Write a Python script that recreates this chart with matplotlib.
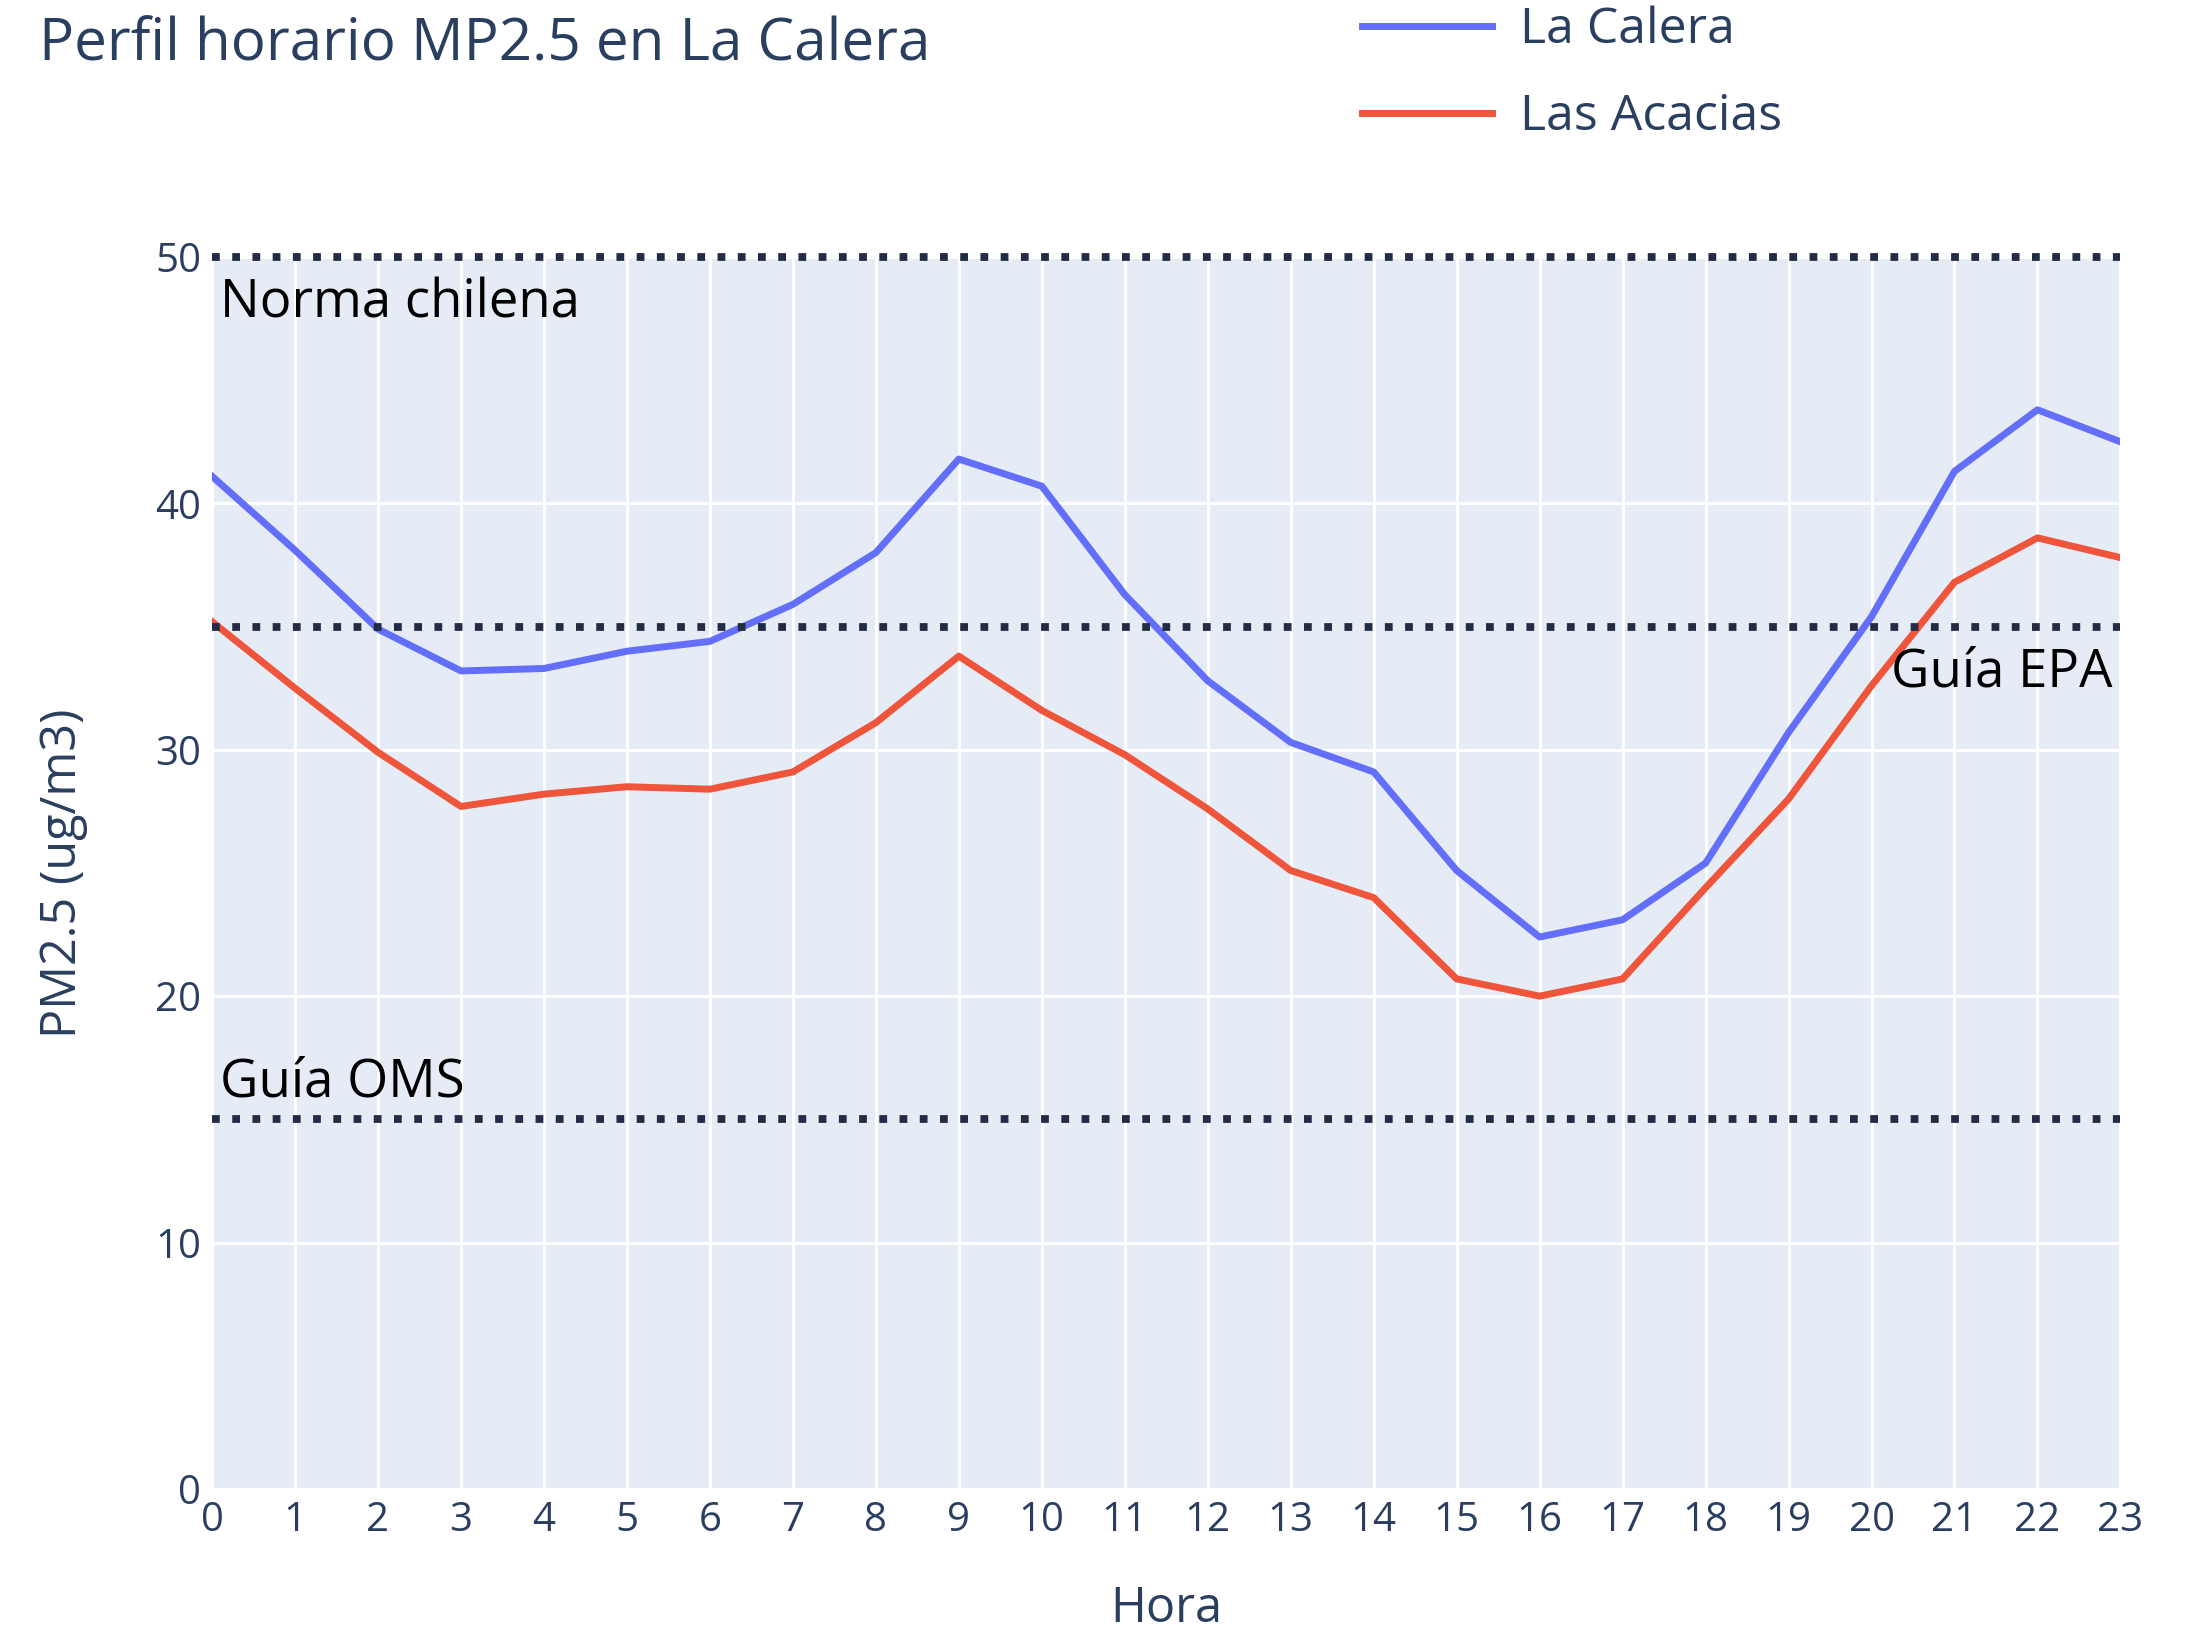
import matplotlib.pyplot as plt
import numpy as np

plt.rcParams['font.family'] = ['Open Sans', 'DejaVu Sans']

horas = list(range(24))
la_calera = [41.1, 38.1, 34.9, 33.2, 33.3, 34.0, 34.4, 35.9, 38.0, 41.8, 40.7, 36.3,
             32.8, 30.3, 29.1, 25.1, 22.4, 23.1, 25.4, 30.7, 35.4, 41.3, 43.8, 42.5]
las_acacias = [35.2, 32.5, 29.9, 27.7, 28.2, 28.5, 28.4, 29.1, 31.1, 33.8, 31.6, 29.8,
               27.6, 25.1, 24.0, 20.7, 20.0, 20.7, 24.4, 28.0, 32.6, 36.8, 38.6, 37.8]
limites = [50, 35, 15]   # Norma chilena, Guía EPA, Guía OMS

texto = '#2a3f5f'

fig = plt.figure(figsize=(21.86, 16.36), dpi=100)
ax = fig.add_axes([0.097, 0.0899, 0.873, 0.753])
ax.set_facecolor('#E5ECF6')
for s in ax.spines.values():
    s.set_visible(False)

ax.plot(horas, la_calera, color='#636EFA', lw=5, label='La Calera', zorder=3)
ax.plot(horas, las_acacias, color='#EF553B', lw=5, label='Las Acacias', zorder=3)

for v in limites:
    ax.axhline(v, color='#232c45', lw=5.6, linestyle=(0, (1, 1.6)), zorder=4, clip_on=False)

ax.text(0.1, 49.2, 'Norma chilena', fontsize=38, color='black', va='top', ha='left', zorder=5)
ax.text(22.9, 34.2, 'Guía EPA', fontsize=38, color='black', va='top', ha='right', zorder=5)
ax.text(0.1, 15.4, 'Guía OMS', fontsize=38, color='black', va='bottom', ha='left', zorder=5)

ax.set_xlim(0, 23)
ax.set_ylim(0, 50)
ax.set_xticks(horas)
ax.set_yticks([0, 10, 20, 30, 40, 50])
ax.grid(True, color='white', lw=2.2, zorder=0)
ax.set_axisbelow(True)
ax.tick_params(length=0, labelsize=29, labelcolor=texto, pad=8)

ax.set_xlabel('Hora', fontsize=35, color=texto, labelpad=32)
ax.set_ylabel('PM2.5 (ug/m3)', fontsize=35, color=texto, labelpad=48)

fig.text(0.0178, 0.990, 'Perfil horario MP2.5 en La Calera', fontsize=42, color=texto,
         va='top', ha='left')

fig.legend(loc='upper left', bbox_to_anchor=(0.6025, 1.024), frameon=False, fontsize=36,
           labelcolor=texto, handlelength=2.6, labelspacing=0.75, handletextpad=0.55)

fig.savefig('out.png', dpi=100)
